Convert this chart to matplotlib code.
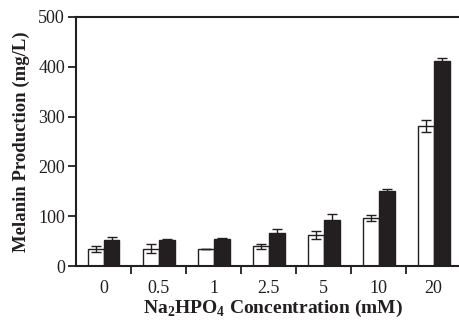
import numpy as np
import matplotlib.pyplot as plt

plt.rcParams["font.family"] = ["Liberation Serif", "DejaVu Serif"]
plt.rcParams["mathtext.fontset"] = "custom"
plt.rcParams["mathtext.rm"] = "Liberation Serif"
plt.rcParams["mathtext.bf"] = "Liberation Serif:bold"

# concentrations (mM) and melanin production (mg/L)
concentrations = ["0", "0.5", "1", "2.5", "5", "10", "20"]
white_vals = [35, 35, 35, 40, 62, 97, 282]
white_err = [6, 9, 0, 5, 8, 6, 12]
black_vals = [53, 53, 55, 67, 92, 151, 411]
black_err = [5, 2, 1, 7, 12, 4, 6]

INK = "#231f20"

fig = plt.figure(figsize=(4.59, 3.21), dpi=100)
ax = fig.add_axes([0.1656, 0.1713, 0.8344, 0.776])

x = np.arange(len(concentrations))
w = 0.29
err_kw = dict(ecolor=INK, elinewidth=1.0, capsize=3.5, capthick=1.0)
ax.bar(x - w / 2, white_vals, w, color="white", edgecolor=INK, linewidth=1.0,
       yerr=white_err, error_kw=err_kw, zorder=2)
ax.bar(x + w / 2, black_vals, w, color=INK, edgecolor=INK, linewidth=1.0,
       yerr=black_err, error_kw=err_kw, zorder=2)

ax.set_xlim(-0.5, 6.46)
ax.set_ylim(0, 500)
ax.set_yticks(range(0, 501, 100))
ax.set_xticks(x)
ax.set_xticklabels(concentrations)
ax.set_xticks(np.arange(0.5, 6.0, 1.0), minor=True)

ax.spines["right"].set_visible(False)
for s in ("left", "top", "bottom"):
    ax.spines[s].set_linewidth(1.5)
    ax.spines[s].set_color(INK)

ax.tick_params(axis="y", direction="out", length=6, width=1.3, labelsize=13,
               colors=INK, pad=2)
ax.tick_params(axis="x", which="major", length=0, labelsize=13, colors=INK, pad=10)
ax.tick_params(axis="x", which="minor", direction="out", length=6, width=1.3,
               colors=INK)

ax.set_ylabel("Melanin Production (mg/L)", fontsize=13.5, fontweight="bold",
              color=INK, labelpad=6)
ax.set_xlabel(r"Na$_\mathbf{2}$HPO$_\mathbf{4}$ Concentration (mM)", fontsize=14,
              fontweight="bold", color=INK, labelpad=1, x=0.515)

fig.savefig("out.png", dpi=100)
